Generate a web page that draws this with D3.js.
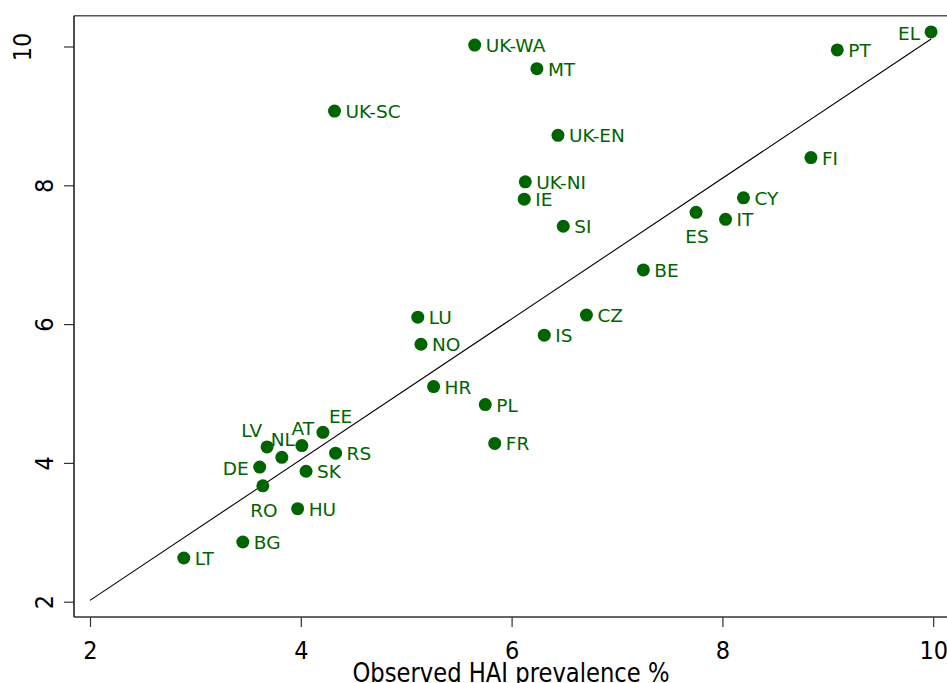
<!DOCTYPE html>
<html>
<head>
<meta charset="utf-8">
<script src="https://cdn.jsdelivr.net/npm/d3@7"></script>
<style>
  html, body { margin: 0; padding: 0; background: #fff; }
  svg { display: block; }
  text { font-family: "DejaVu Sans Condensed", "DejaVu Sans", sans-serif; font-stretch: condensed; }
  .lbl { font-family: "DejaVu Sans", sans-serif; font-stretch: normal; }
</style>
</head>
<body>
<svg id="chart" width="947" height="683"></svg>
<script>
// Country codes with observed and predicted HAI prevalence (%)
const countries = ["EL","PT","UK-WA","MT","UK-SC","UK-EN","FI","UK-NI","IE","CY","ES","IT","SI","BE","LU","CZ","IS","NO","HR","PL","FR","EE","AT","LV","NL","RS","DE","SK","RO","HU","BG","LT"];
const observed  = [9.98, 9.09, 5.65, 6.24, 4.32, 6.44, 8.84, 6.13, 6.12, 8.20, 7.75, 8.03, 6.49, 7.25, 5.11, 6.71, 6.31, 5.14, 5.26, 5.75, 5.84, 4.21, 4.01, 3.68, 3.82, 4.33, 3.61, 4.05, 3.64, 3.97, 3.45, 2.89];
const predicted = [10.21, 9.95, 10.02, 9.68, 9.07, 8.72, 8.40, 8.05, 7.80, 7.82, 7.61, 7.51, 7.41, 6.78, 6.10, 6.13, 5.84, 5.71, 5.10, 4.84, 4.28, 4.44, 4.25, 4.23, 4.08, 4.14, 3.94, 3.88, 3.67, 3.34, 2.86, 2.63];
// Where each country label sits relative to its marker
const labelSide = ["left","right","right","right","right","right","right","right","right","right","below","right","right","right","right","right","right","right","right","right","right","above-right","above","above-left","above","right","left","right","below","right","right","right"];

// Fitted line: predicted = slope * observed + intercept
const fitX = [2, 9.98];
const fitSlope = 1.0137;
const fitIntercept = -0.008;

const xTicks = [2, 4, 6, 8, 10];
const yTicks = [2, 4, 6, 8, 10];
const xTitle = "Observed HAI prevalence %";

const green = "#006400";
const svg = d3.select("#chart");

const frame = { left: 74, top: 15.7, right: 947, bottom: 617 };
const x = d3.scaleLinear().domain([2, 10]).range([90, 933.2]);
const y = d3.scaleLinear().domain([2, 10]).range([601.7, 46.5]);

// Axes
const xAxis = svg.append("g")
  .attr("transform", `translate(0,${frame.bottom})`)
  .call(d3.axisBottom(x).tickValues(xTicks).tickSize(10).tickSizeOuter(0).tickPadding(14).tickFormat(d3.format("d")));
xAxis.select(".domain").remove();
xAxis.selectAll(".tick line").attr("stroke", "#333").attr("stroke-width", 1.2);
xAxis.selectAll(".tick text")
  .attr("fill", "#000").attr("font-size", 25)
  .style("font-family", "\"DejaVu Sans Condensed\", \"DejaVu Sans\", sans-serif");

const yAxis = svg.append("g")
  .attr("transform", `translate(${frame.left},0)`)
  .call(d3.axisLeft(y).tickValues(yTicks).tickSize(10).tickSizeOuter(0).tickFormat(d3.format("d")));
yAxis.select(".domain").remove();
yAxis.selectAll(".tick line").attr("stroke", "#333").attr("stroke-width", 1.2);
yAxis.selectAll(".tick text")
  .attr("fill", "#000").attr("font-size", 25)
  .attr("text-anchor", "middle")
  .attr("dy", null)
  .attr("dominant-baseline", "central")
  .attr("x", null)
  .attr("transform", d => {
    const off = String(d).length > 1 ? -52 : -30;
    return `translate(${off},0) rotate(-90)`;
  })
  .style("font-family", "\"DejaVu Sans Condensed\", \"DejaVu Sans\", sans-serif");

// Plot frame lines
svg.append("line").attr("x1", frame.left).attr("x2", frame.right).attr("y1", frame.top).attr("y2", frame.top)
  .attr("stroke", "#555").attr("stroke-width", 1.6);
svg.append("line").attr("x1", frame.left).attr("x2", frame.right).attr("y1", frame.bottom).attr("y2", frame.bottom)
  .attr("stroke", "#333").attr("stroke-width", 1.6);
svg.append("line").attr("x1", frame.left).attr("x2", frame.left).attr("y1", frame.top).attr("y2", frame.bottom)
  .attr("stroke", "#222").attr("stroke-width", 1.6);

// Axis title
svg.append("text")
  .attr("x", 511).attr("y", 682)
  .attr("text-anchor", "middle")
  .attr("font-size", 27)
  .attr("textLength", 317).attr("lengthAdjust", "spacingAndGlyphs")
  .attr("fill", "#000")
  .text(xTitle);

// Fitted line
const fit = fitX.map(v => [v, fitSlope * v + fitIntercept]);
svg.append("path")
  .attr("d", d3.line().x(d => x(d[0])).y(d => y(d[1]))(fit))
  .attr("fill", "none").attr("stroke", "#000").attr("stroke-width", 1.1);

// Points
const data = countries.map((c, i) => ({ c, o: observed[i], p: predicted[i], side: labelSide[i] }));

svg.append("g").selectAll("circle").data(data).join("circle")
  .attr("cx", d => x(d.o)).attr("cy", d => y(d.p)).attr("r", 6.5)
  .attr("fill", green);

// Label placement offsets by side
const place = {
  "right":       { dx: 11, dy: 7,   anchor: "start" },
  "left":        { dx: -11, dy: 8,  anchor: "end" },
  "below":       { dx: 1, dy: 31,   anchor: "middle" },
  "above":       { dx: 1, dy: -11,  anchor: "middle" },
  "above-left":  { dx: -5, dy: -10, anchor: "end" },
  "above-right": { dx: 6, dy: -9,   anchor: "start" }
};

svg.append("g").selectAll("text").data(data).join("text")
  .attr("class", "lbl")
  .attr("x", d => x(d.o) + place[d.side].dx)
  .attr("y", d => y(d.p) + place[d.side].dy)
  .attr("text-anchor", d => place[d.side].anchor)
  .attr("font-size", 18.5)
  .attr("fill", green)
  .text(d => d.c);
</script>
</body>
</html>
